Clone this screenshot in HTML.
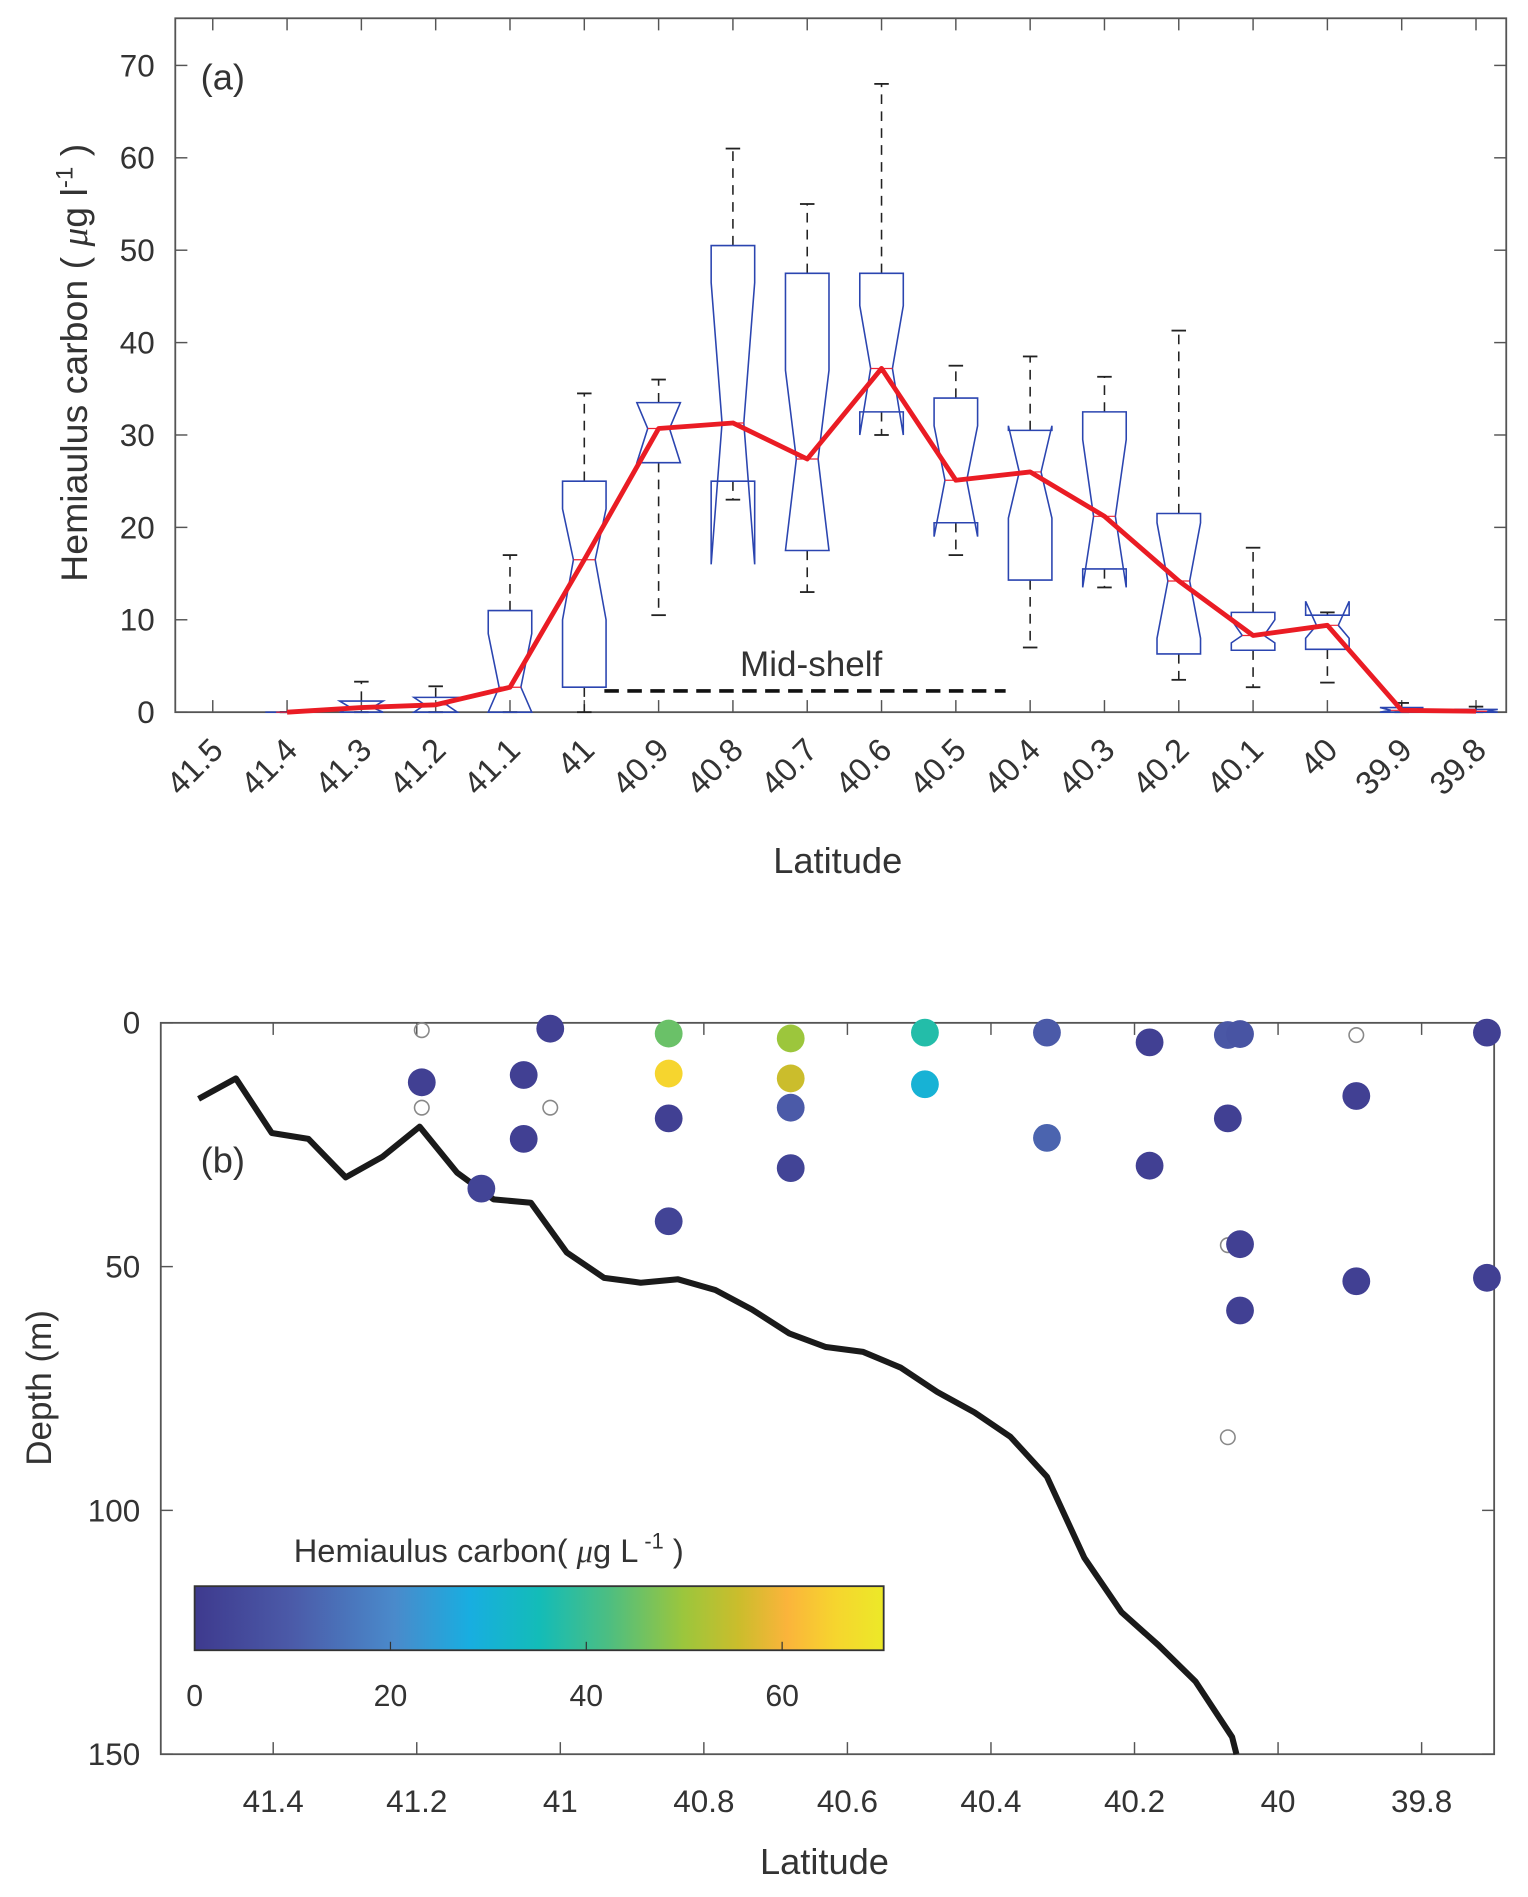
<!DOCTYPE html>
<html><head><meta charset="utf-8"><style>
html,body{margin:0;padding:0;background:#fff}
svg{display:block}
text{font-family:"Liberation Sans",sans-serif;fill:#333}
</style></head><body>
<svg id="fig" xmlns="http://www.w3.org/2000/svg" width="1528" height="1897" viewBox="0 0 1264 1569">
<defs>
<linearGradient id="cmap" x1="0" x2="1" y1="0" y2="0">
<stop offset="0" stop-color="#3e3a8e"/><stop offset="0.14" stop-color="#4b5aa8"/><stop offset="0.29" stop-color="#4a8acb"/><stop offset="0.4" stop-color="#18aee0"/><stop offset="0.5" stop-color="#13bcb8"/><stop offset="0.6" stop-color="#4cbe82"/><stop offset="0.71" stop-color="#9cc63c"/><stop offset="0.79" stop-color="#cbbd2c"/><stop offset="0.86" stop-color="#fbb43b"/><stop offset="0.93" stop-color="#f6d52e"/><stop offset="1" stop-color="#ece928"/>
</linearGradient>
</defs>
<g id="pa"></g>
<g id="pb"></g>
</svg>
<script>
// ---------- Panel (a) data ----------
const catLabels = ["41.5","41.4","41.3","41.2","41.1","41","40.9","40.8","40.7","40.6","40.5","40.4","40.3","40.2","40.1","40","39.9","39.8"];
const yTicksA = [0,10,20,30,40,50,60,70];
const boxIdx   = [1,2,3,4,5,6,7,8,9,10,11,12,13,14,15,16,17];
const boxQ1    = [0,0,0,0,2.7,27,25,17.5,32.5,20.5,14.3,15.5,6.3,6.7,6.8,0,0];
const boxQ3    = [0,1.2,1.6,11,25,33.5,50.5,47.5,47.5,34,30.5,32.5,21.5,10.8,10.5,0.5,0.3];
const boxMed   = [0,0.5,0.8,2.7,16.5,30.7,31.3,27.4,37.2,25.1,26,21.2,14.2,8.3,9.4,0.2,0.1];
const notchLo  = [0,0,0,0,10,27,16,17.5,30,19,21,13.5,8,7.5,8,0,0];
const notchHi  = [0,1.2,1.6,8.5,22,33.5,46.5,37,44,31,31,29.5,20.5,10,12,0.5,0.3];
const whiskLo  = [0,0,0,0,0,10.5,23,13,30,17,7,13.5,3.5,2.7,3.2,0,0];
const whiskHi  = [0,3.3,2.8,17,34.5,36,61,55,68,37.5,38.5,36.3,41.3,17.8,10.8,1,0.6];
const midShelf = [5.27, 10.67]; // category index range
// ---------- Panel (b) data ----------
const xTicksB = [41.4,41.2,41,40.8,40.6,40.4,40.2,40,39.8];
const yTicksB = [0,50,100,150];
const ptLat = [41.014,41.193,41.051,41.051,41.110,40.849,40.849,40.849,40.849,40.679,40.679,40.679,40.679,40.492,40.492,40.322,40.322,40.179,40.179,40.070,40.053,40.070,40.053,40.053,39.891,39.891,39.709,39.709];
const ptDep = [1.2,12.2,10.7,23.8,34,2.2,10.4,19.6,40.7,3.2,11.4,17.4,29.8,2,12.6,2,23.6,4,29.3,2.5,2.3,19.6,45.4,59,15,53,2,52.3];
const ptVal = [2,2,2,2,3,45,65,2,3,50,55,10,3,37,30,10,12,2,2,9,8,2,2,2,2,2,2,2];
const zeroLat = [41.193,41.193,41.014,40.070,40.070,39.891];
const zeroDep = [1.5,17.4,17.4,45.6,85,2.5];
const bathLat = [41.504,41.452,41.402,41.351,41.299,41.248,41.196,41.144,41.093,41.041,40.991,40.939,40.888,40.836,40.784,40.733,40.681,40.630,40.578,40.526,40.475,40.423,40.373,40.322,40.270,40.218,40.167,40.115,40.064,40.058];
const bathDep = [15.6,11.4,22.6,23.8,31.7,27.5,21.3,30.7,36.2,36.9,47.1,52.3,53.3,52.6,54.8,58.8,63.7,66.5,67.5,70.7,75.7,79.9,84.9,93.1,109.7,120.9,127.6,135.1,146.5,150];
const cbTicks = [0,20,40,60];

const NS="http://www.w3.org/2000/svg";
function mk(tag, attrs, parent, txt){const e=document.createElementNS(NS,tag);for(const k in attrs)e.setAttribute(k,attrs[k]);if(txt!==undefined)e.textContent=txt;parent.appendChild(e);return e;}

// ---------- Panel (a) ----------
const pa=document.getElementById('pa');
const A={l:145,r:1246,t:15,b:589};
const xa=i=>176+i*61.47;
const ya=v=>589-v*7.643;
let el;
el=mk('rect',{x:A.l,y:A.t,width:A.r-A.l,height:A.b-A.t,fill:'none',stroke:'#555','stroke-width':1.5},pa);


catLabels.forEach((lab,i)=>{
  const x=xa(i);
  mk('line',{x1:x,x2:x,y1:A.b,y2:A.b-10,stroke:'#555','stroke-width':1.2},pa);
  mk('line',{x1:x,x2:x,y1:A.t,y2:A.t+10,stroke:'#555','stroke-width':1.2},pa);
  el=mk('text',{x:x+10,y:622,'font-size':27,'text-anchor':'end',transform:`rotate(-45 ${x+10} 622)`},pa,lab);
  
  
});
yTicksA.forEach(v=>{
  const y=ya(v);
  mk('line',{x1:A.l,x2:A.l+10,y1:y,y2:y,stroke:'#555','stroke-width':1.2},pa);
  mk('line',{x1:A.r,x2:A.r-10,y1:y,y2:y,stroke:'#555','stroke-width':1.2},pa);
  el=mk('text',{x:128,y:y+9,'font-size':26,'text-anchor':'end'},pa,String(v));
  
  
});
el=mk('text',{x:0,y:0,'font-size':31,'text-anchor':'middle',transform:'translate(72 300) rotate(-90)'},pa);
el.innerHTML='Hemiaulus  carbon ( <tspan font-style="italic" font-family="Liberation Serif">μ</tspan>g l<tspan dy="-12" font-size="20">-1</tspan><tspan dy="12"> )</tspan>';


el=mk('text',{x:693,y:722,'font-size':30,'text-anchor':'middle'},pa,'Latitude');


el=mk('text',{x:166,y:74,'font-size':30,fill:'#111'},pa,'(a)');



boxIdx.forEach((ci,k)=>{
  const x=xa(ci), w=18, nw=9;
  const g=mk('g',{},pa);
  
  
  const dash={stroke:'#222','stroke-width':1.3,'stroke-dasharray':'8 6'};
  mk('line',Object.assign({x1:x,x2:x,y1:ya(boxQ3[k]),y2:ya(whiskHi[k])},dash),g);
  mk('line',Object.assign({x1:x,x2:x,y1:ya(boxQ1[k]),y2:ya(whiskLo[k])},dash),g);
  mk('line',{x1:x-6,x2:x+6,y1:ya(whiskHi[k]),y2:ya(whiskHi[k]),stroke:'#222','stroke-width':1.5},g);
  mk('line',{x1:x-6,x2:x+6,y1:ya(whiskLo[k]),y2:ya(whiskLo[k]),stroke:'#222','stroke-width':1.5},g);
  const q1=ya(boxQ1[k]),q3=ya(boxQ3[k]),m=ya(boxMed[k]),nl=ya(notchLo[k]),nh=ya(notchHi[k]);
  const pts=[[x-w,q3],[x+w,q3],[x+w,nh],[x+nw,m],[x+w,nl],[x+w,q1],[x-w,q1],[x-w,nl],[x-nw,m],[x-w,nh]];
  mk('polygon',{points:pts.map(p=>p.join(',')).join(' '),fill:'none',stroke:'#2b45b0','stroke-width':1.3},g);
  mk('line',{x1:x-nw,x2:x+nw,y1:m,y2:m,stroke:'#e23',"stroke-width":1},g);
});
el=mk('polyline',{points:boxIdx.map((ci,k)=>xa(ci)+','+ya(boxMed[k])).join(' '),fill:'none',stroke:'#ea1c24','stroke-width':4,'stroke-linejoin':'round'},pa);


el=mk('line',{x1:xa(midShelf[0]),x2:xa(midShelf[1]),y1:ya(2.3),y2:ya(2.3),stroke:'#111','stroke-width':3,'stroke-dasharray':'12 7'},pa);


el=mk('text',{x:671,y:559,'font-size':29,'text-anchor':'middle',fill:'#111'},pa,'Mid-shelf');



// ---------- Panel (b) ----------
const pb=document.getElementById('pb');
const B={l:133,r:1236,t:846,b:1451};
const xb=lat=>226+(41.4-lat)/0.2*118.75;
const yb=d=>846+d*4.033;
const stops=[[0,[62,58,142]],[10,[75,90,168]],[20,[74,138,203]],[28,[24,174,224]],[35,[19,188,184]],[42,[76,190,130]],[50,[156,198,60]],[55,[203,189,44]],[60,[251,180,59]],[65,[246,213,46]],[70,[236,233,40]]];
function cmap(v){for(let i=1;i<stops.length;i++){if(v<=stops[i][0]){const a=stops[i-1],b=stops[i],t=(v-a[0])/(b[0]-a[0]);return 'rgb('+a[1].map((c,j)=>Math.round(c+(b[1][j]-c)*t)).join(',')+')';}}return 'rgb(236,233,40)';}
el=mk('rect',{x:B.l,y:B.t,width:B.r-B.l,height:B.b-B.t,fill:'none',stroke:'#555','stroke-width':1.5},pb);


xTicksB.forEach(v=>{
  const x=xb(v);
  mk('line',{x1:x,x2:x,y1:B.b,y2:B.b-10,stroke:'#555','stroke-width':1.2},pb);
  mk('line',{x1:x,x2:x,y1:B.t,y2:B.t+10,stroke:'#555','stroke-width':1.2},pb);
  el=mk('text',{x:x,y:1499,'font-size':26,'text-anchor':'middle'},pb,String(v));
  
  
});
yTicksB.forEach(v=>{
  const y=yb(v);
  mk('line',{x1:B.l,x2:B.l+10,y1:y,y2:y,stroke:'#555','stroke-width':1.2},pb);
  mk('line',{x1:B.r,x2:B.r-10,y1:y,y2:y,stroke:'#555','stroke-width':1.2},pb);
  el=mk('text',{x:116,y:y+9,'font-size':26,'text-anchor':'end'},pb,String(v));
  
  
});
el=mk('text',{x:0,y:0,'font-size':29,'text-anchor':'middle',transform:'translate(42 1148) rotate(-90)'},pb,'Depth (m)');


el=mk('text',{x:682,y:1550,'font-size':30,'text-anchor':'middle'},pb,'Latitude');


el=mk('text',{x:166,y:970,'font-size':30,fill:'#111'},pb,'(b)');


el=mk('polyline',{points:bathLat.map((l,i)=>xb(l)+','+yb(bathDep[i])).join(' '),fill:'none',stroke:'#1a1a1a','stroke-width':5,'stroke-linejoin':'round'},pb);


zeroLat.forEach((l,i)=>{
  el=mk('circle',{cx:xb(l),cy:yb(zeroDep[i]),r:6,fill:'none',stroke:'#888','stroke-width':1.3},pb);
  
  
});
ptLat.forEach((l,i)=>{
  el=mk('circle',{cx:xb(l),cy:yb(ptDep[i]),r:11.5,fill:cmap(ptVal[i])},pb);
  
  
});
// colorbar
const cbx=v=>161+v*8.1;
el=mk('rect',{x:161,y:1312,width:570,height:53,fill:'url(#cmap)',stroke:'#333','stroke-width':1.5},pb);


cbTicks.forEach(v=>{
  mk('line',{x1:cbx(v),x2:cbx(v),y1:1365,y2:1358,stroke:'#333','stroke-width':1},pb);
  el=mk('text',{x:cbx(v),y:1411,'font-size':25,'text-anchor':'middle'},pb,String(v));
  
  
});
el=mk('text',{x:243,y:1292,'font-size':27,fill:'#111'},pb);
el.innerHTML='Hemiaulus  carbon( <tspan font-style="italic" font-family="Liberation Serif">μ</tspan>g L<tspan dy="-11" font-size="18"> -1</tspan><tspan dy="11"> )</tspan>';


</script>
</body></html>
